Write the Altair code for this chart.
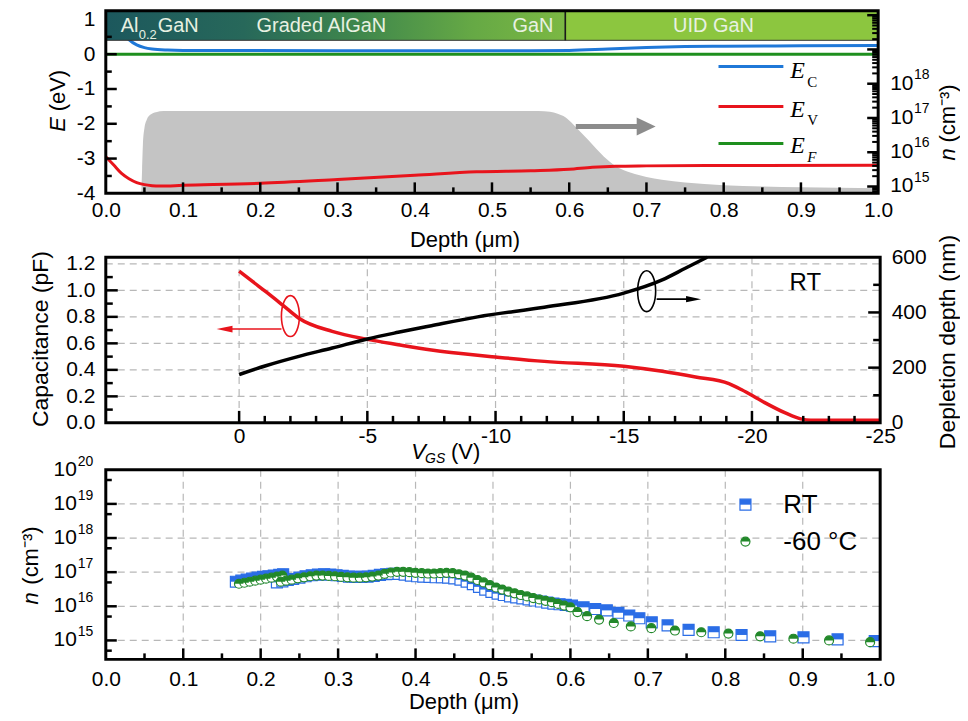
import altair as alt
import pandas as pd

SANS = "Liberation Sans"
SERIF = "Liberation Serif"

# ================= DATA =================
# --- top panel: band diagram (depth in um, energy in eV) ---
ec_depth = [0.0, 0.01, 0.02, 0.03, 0.04, 0.05, 0.06, 0.08, 0.1, 0.3, 0.55, 0.6, 0.65, 0.7, 0.75, 0.8, 0.9, 1.0]
ec_val = [1.2, 1.05, 0.7, 0.42, 0.27, 0.19, 0.15, 0.12, 0.11, 0.1, 0.1, 0.11, 0.15, 0.19, 0.22, 0.23, 0.24, 0.25]
ev_depth = [0.0, 0.01, 0.02, 0.03, 0.04, 0.05, 0.06, 0.07, 0.1, 0.2, 0.3, 0.4, 0.48, 0.55, 0.6, 0.63, 0.66, 0.7, 0.8, 1.0]
ev_val = [-2.95, -3.18, -3.42, -3.58, -3.69, -3.75, -3.78, -3.79, -3.77, -3.71, -3.6, -3.48, -3.38, -3.35, -3.31, -3.25, -3.22, -3.21, -3.2, -3.19]
ef_depth = [0.0, 1.0]
ef_val = [0.0, 0.0]
# electron density profile (log10 n, cm^-3)
n_depth = [0.046, 0.047, 0.048, 0.05, 0.053, 0.058, 0.065, 0.075, 0.1, 0.3, 0.5, 0.56, 0.575, 0.585,
           0.595, 0.605, 0.615, 0.625, 0.635, 0.645, 0.66, 0.68, 0.7, 0.72, 0.75, 0.8, 0.85, 0.9, 0.95, 1.0]
n_exp = [14.8, 15.5, 16.2, 16.7, 16.95, 17.1, 17.17, 17.2, 17.2, 17.2, 17.2, 17.2, 17.18, 17.12,
         17.02, 16.82, 16.58, 16.35, 16.1, 15.87, 15.6, 15.4, 15.28, 15.2, 15.12, 15.04, 15.0, 14.98, 14.96, 14.95]
n_floor_exp = 14.8
# layer stack
stack_x0 = [0.0, 0.595]
stack_x1 = [0.595, 1.0]
stack_y = [0.40, 1.25]
stack_labels = ["Graded AlGaN", "GaN", "UID GaN"]

# --- middle panel: C-V ---
cap_v = [0, -0.52, -1.04, -1.69, -2.33, -3.63, -5, -6.2, -7.5, -9.3, -10, -11.9, -15, -16.5, -17.8,
         -19.1, -19.6, -20.4, -21.3, -21.9, -22.3, -25]
cap_pf = [1.145, 1.067, 0.99, 0.89, 0.79, 0.69, 0.63, 0.59, 0.55, 0.51, 0.497, 0.464, 0.427, 0.389, 0.346,
          0.296, 0.25, 0.163, 0.075, 0.03, 0.02, 0.02]
dep_v = [0, -1.04, -2.33, -3.63, -5, -6.2, -7.5, -9.3, -11.9, -15, -16.5, -17.4, -18.25]
dep_nm = [175, 207, 241, 271, 304, 328, 352, 384, 419, 470, 518, 560, 600]

# --- bottom panel: n profile, RT and -60 C (log10 n) ---
rt_depth = [0.168, 0.175, 0.182, 0.189, 0.196, 0.203, 0.210, 0.217, 0.224, 0.229,
            0.221, 0.228, 0.235, 0.242, 0.250, 0.258, 0.266, 0.274, 0.282, 0.290, 0.298, 0.306, 0.314, 0.322,
            0.330, 0.338, 0.346, 0.354, 0.362, 0.370, 0.378, 0.386, 0.394, 0.402, 0.410, 0.418, 0.426, 0.434,
            0.442, 0.450, 0.458, 0.466, 0.474, 0.482, 0.490, 0.498, 0.506, 0.514, 0.522, 0.530, 0.538, 0.546,
            0.554, 0.562, 0.570, 0.578, 0.586, 0.594,
            0.602, 0.617, 0.632, 0.647, 0.662, 0.676, 0.689, 0.705, 0.7255, 0.7526, 0.785, 0.821, 0.858,
            0.901, 0.945, 0.993]
rt_exp = [16.72, 16.75, 16.78, 16.81, 16.84, 16.86, 16.88, 16.90, 16.92, 16.94,
          16.70, 16.73, 16.77, 16.80, 16.84, 16.88, 16.91, 16.93, 16.94, 16.93, 16.91, 16.89, 16.87, 16.86,
          16.86, 16.87, 16.89, 16.92, 16.94, 16.95, 16.95, 16.93, 16.90, 16.88, 16.87, 16.86, 16.85, 16.85,
          16.84, 16.82, 16.78, 16.72, 16.65, 16.57, 16.49, 16.42, 16.37, 16.33, 16.29, 16.26, 16.23, 16.20,
          16.17, 16.14, 16.11, 16.08, 16.06, 16.04,
          16.02, 15.97, 15.92, 15.88, 15.81, 15.73, 15.65, 15.53, 15.44, 15.31, 15.24, 15.16, 15.12,
          15.09, 15.03, 14.98]
lt_depth = [0.172, 0.179, 0.186, 0.193, 0.200, 0.207, 0.214, 0.221, 0.228,
            0.226, 0.233, 0.240, 0.248, 0.256, 0.264, 0.272, 0.280, 0.288, 0.296, 0.304, 0.312, 0.320,
            0.328, 0.336, 0.344, 0.352, 0.360, 0.368, 0.376, 0.384, 0.392, 0.400, 0.408, 0.416, 0.424,
            0.432, 0.440, 0.448, 0.456, 0.464, 0.472, 0.480, 0.488, 0.496, 0.504, 0.512, 0.520, 0.528,
            0.536, 0.544, 0.552, 0.560, 0.568, 0.576, 0.584, 0.592, 0.600,
            0.609, 0.6215, 0.637, 0.656, 0.678, 0.7045, 0.735, 0.769, 0.804, 0.845, 0.888, 0.934, 0.987]
lt_exp = [16.66, 16.69, 16.72, 16.75, 16.78, 16.81, 16.84, 16.87, 16.90,
          16.72, 16.75, 16.78, 16.82, 16.85, 16.88, 16.90, 16.90, 16.89, 16.88, 16.86, 16.85, 16.84,
          16.84, 16.85, 16.87, 16.90, 16.95, 16.99, 17.01, 17.01, 17.00, 16.98, 16.97, 16.96, 16.96,
          16.97, 16.98, 16.97, 16.94, 16.90, 16.84, 16.77, 16.70, 16.62, 16.55, 16.49, 16.43, 16.38,
          16.33, 16.29, 16.24, 16.20, 16.16, 16.12, 16.07, 16.02, 15.97,
          15.83, 15.71, 15.61, 15.51, 15.41, 15.36, 15.29, 15.24, 15.20, 15.12, 15.05, 15.00, 14.95]

# tick values
depth_major = [0.0, 0.1, 0.2, 0.3, 0.4, 0.5, 0.6, 0.7, 0.8, 0.9, 1.0]
depth_minor = [0.05, 0.15, 0.25, 0.35, 0.45, 0.55, 0.65, 0.75, 0.85, 0.95]
e_major = [-4, -3, -2, -1, 0, 1]
e_minor = [-3.5, -2.5, -1.5, -0.5, 0.5]
v_major = [0, -5, -10, -15, -20, -25]
v_minor = [-1, -2, -3, -4, -6, -7, -8, -9, -11, -12, -13, -14, -16, -17, -18, -19, -21, -22, -23, -24]
c_major = [0.0, 0.2, 0.4, 0.6, 0.8, 1.0, 1.2]
c_minor = [0.1, 0.3, 0.5, 0.7, 0.9, 1.1]
d_major = [0, 200, 400, 600]
d_minor = [100, 300, 500]
top_n_exps = [15, 16, 17, 18]
top_n_major = [15, 16, 17, 18, 19, 20]
top_n_minor_mult = [2, 3, 4, 5, 6, 7, 8, 9]
bot_n_exps = [15, 16, 17, 18, 19, 20]
bot_n_minor = [14.7, 15.7, 16.7, 17.7, 18.7, 19.7]

# ================= HELPERS =================
BLUE_L = "#1f78d8"
RED = "#e8141c"
GREEN = "#1e8f1e"
BLUE_P = "#2b6de6"
GREEN_P = "#22882a"
GRID = "#b8b8b8"


def one():
    return pd.DataFrame({"k": [0]})


def txt(text, x, y, size=21, angle=0, align="center", baseline="middle", font=SANS, style="normal", color="black"):
    return alt.Chart(one()).mark_text(text=text, fontSize=size, angle=angle, align=align, baseline=baseline,
                                      font=font, fontStyle=style, color=color).encode(
        x=alt.value(x), y=alt.value(y))


def vrules(vals, scale, y0, y1, color="black", width=2.5, dash=None, axis=None):
    kw = dict(color=color, strokeWidth=width)
    if dash:
        kw["strokeDash"] = dash
    return alt.Chart(pd.DataFrame({"v": vals})).mark_rule(**kw).encode(
        x=alt.X("v:Q", scale=scale, axis=axis, title=None), y=alt.value(y0), y2=alt.value(y1))


def hrules(vals, scale, x0, x1, color="black", width=2.5, dash=None):
    kw = dict(color=color, strokeWidth=width)
    if dash:
        kw["strokeDash"] = dash
    return alt.Chart(pd.DataFrame({"v": vals})).mark_rule(**kw).encode(
        y=alt.Y("v:Q", scale=scale, axis=None, title=None), x=alt.value(x0), x2=alt.value(x1))


def line(xs, ys, color, w, sx, sy, xaxis=None, yaxis=None):
    df = pd.DataFrame({"x": xs, "y": ys})
    return alt.Chart(df).mark_line(color=color, strokeWidth=w, interpolate="monotone").encode(
        x=alt.X("x:Q", scale=sx, axis=xaxis, title=None),
        y=alt.Y("y:Q", scale=sy, axis=yaxis, title=None))


def seg(x0, x1, y0, y1, color, w):
    return alt.Chart(one()).mark_rule(color=color, strokeWidth=w).encode(
        x=alt.value(x0), x2=alt.value(x1), y=alt.value(y0), y2=alt.value(y1))


def sym(x, y, shape, size, fill=None, stroke=None, sw=1.0):
    kw = dict(shape=shape, size=size, opacity=1, strokeWidth=sw)
    if fill:
        kw["fill"] = fill
        kw["filled"] = True
        kw["fillOpacity"] = 1
    else:
        kw["filled"] = False
        kw["fillOpacity"] = 0
    if stroke:
        kw["stroke"] = stroke
    else:
        kw["strokeWidth"] = 0
    return alt.Chart(one()).mark_point(**kw).encode(x=alt.value(x), y=alt.value(y))


def frame(w, h, top=0):
    return alt.Chart(one()).mark_rect(fillOpacity=0, stroke="black", strokeWidth=3).encode(
        x=alt.value(0), x2=alt.value(w), y=alt.value(top), y2=alt.value(h))


def depth_axis(pad):
    return alt.Axis(orient="bottom", values=depth_major, format=".1f", labelPadding=pad, labelFontSize=21,
                    labelFont=SANS, labelColor="black", ticks=False, domain=False, grid=False, title=None,
                    labelFlush=False, labelOverlap=False)


ELLIPSE = "M0,-1A0.44,1,0,0,1,0,1A0.44,1,0,0,1,0,-1Z"
HEAD_R = "M-1,-0.95L1,0L-1,0.95Z"
HEAD_R_THIN = "M-1,-0.42L1,0L-1,0.42Z"
HEAD_L_THIN = "M1,-0.42L-1,0L1,0.42Z"
SQ = "M-1,-1L1,-1L1,1L-1,1Z"
SQ_TOP = "M-1,-1L1,-1L1,0L-1,0Z"
CI = "M-1,0A1,1,0,1,1,1,0A1,1,0,1,1,-1,0Z"
CI_TOP = "M-1,0A1,1,0,0,1,1,0Z"

# ================= TOP PANEL =================
W1, H1 = 774, 183
X1 = alt.Scale(domain=[0, 1], nice=False, zero=False)
YE = alt.Scale(domain=[-4, 1.25], nice=False, zero=False)
YN = alt.Scale(type="log", domain=[10 ** 14.8, 10 ** 20.13], nice=False)

n_df = pd.DataFrame({"x": n_depth, "n": [10.0 ** e for e in n_exp],
                     "b": [10.0 ** n_floor_exp] * len(n_depth)})
gray_area = alt.Chart(n_df).mark_area(color="#c4c4c4", interpolate="monotone", opacity=1).encode(
    x=alt.X("x:Q", scale=X1, axis=depth_axis(6), title=None),
    y=alt.Y("n:Q", scale=YN, axis=None, title=None, stack=None),
    y2="b:Q")

e_axis = alt.Axis(values=e_major, labelExpr="toString(datum.value)", labelPadding=11, labelFontSize=21,
                  labelFont=SANS, labelColor="black", ticks=False, domain=False, grid=False, title=None)
ef_line = line(ef_depth, ef_val, GREEN, 3, X1, YE, yaxis=e_axis)
ec_line = line(ec_depth, ec_val, BLUE_L, 3, X1, YE)
ev_line = line(ev_depth, ev_val, RED, 3, X1, YE)

grad = alt.Gradient(gradient="linear", x1=0, x2=1, y1=0, y2=0, stops=[
    alt.GradientStop(offset=0.0, color="#1c585d"),
    alt.GradientStop(offset=0.3, color="#27685a"),
    alt.GradientStop(offset=0.55, color="#3f874c"),
    alt.GradientStop(offset=0.8, color="#66a945"),
    alt.GradientStop(offset=1.0, color="#7bb843")])
stack1 = alt.Chart(pd.DataFrame({"x0": [stack_x0[0]], "x1": [stack_x1[0]], "y0": [stack_y[0]], "y1": [stack_y[1]]})).mark_rect(
    color=grad, stroke="#333333", strokeWidth=1).encode(
    x=alt.X("x0:Q", scale=X1, axis=None), x2="x1:Q",
    y=alt.Y("y0:Q", scale=YE, axis=None), y2="y1:Q")
stack2 = alt.Chart(pd.DataFrame({"x0": [stack_x0[1]], "x1": [stack_x1[1]], "y0": [stack_y[0]], "y1": [stack_y[1]]})).mark_rect(
    color="#8cc63f", stroke="#333333", strokeWidth=1).encode(
    x=alt.X("x0:Q", scale=X1, axis=None), x2="x1:Q",
    y=alt.Y("y0:Q", scale=YE, axis=None), y2="y1:Q")
sep = alt.Chart(pd.DataFrame({"x": [stack_x0[1]], "y0": [stack_y[0]], "y1": [stack_y[1]]})).mark_rule(
    color="#1a1a1a", strokeWidth=1.5).encode(
    x=alt.X("x:Q", scale=X1, axis=None), y=alt.Y("y0:Q", scale=YE, axis=None), y2="y1:Q")

LBL = "#e8f1e2"
top_layers = [
    gray_area, ef_line, ec_line, ev_line, stack1, stack2, sep,
    txt("Al", 15, 15, 20, align="left", color=LBL),
    txt("0.2", 33, 24, 13, align="left", color=LBL),
    txt("GaN", 52, 15, 20, align="left", color=LBL),
    txt(stack_labels[0], 216, 15, 20, color=LBL),
    txt(stack_labels[1], 428, 15, 20, color=LBL),
    txt(stack_labels[2], 609, 15, 20, color=LBL),
    # legend
    seg(614, 679, 56, 56, BLUE_L, 3), seg(614, 679, 96, 96, RED, 3), seg(614, 679, 133, 133, GREEN, 3),
    txt("E", 686, 60, 24, align="left", font=SERIF, style="italic"),
    txt("C", 703, 71, 15, align="left", font=SERIF),
    txt("E", 686, 99, 24, align="left", font=SERIF, style="italic"),
    txt("V", 703, 110, 15, align="left", font=SERIF),
    txt("E", 686, 136, 24, align="left", font=SERIF, style="italic"),
    txt("F", 703, 147, 15, align="left", font=SERIF, style="italic"),
    # gray arrow
    seg(471, 534, 116, 116, "#8c8c8c", 5),
    sym(541.5, 116, HEAD_R, 361, fill="#8c8c8c"),
    # ticks
    vrules(depth_major[1:-1], X1, H1, H1 - 11), vrules(depth_minor, X1, H1, H1 - 6),
    hrules(e_major[1:-1], YE, 0, 11), hrules(e_minor, YE, 0, 6),
    hrules([10.0 ** e for e in top_n_major], YN, W1, W1 - 11),
    hrules([m * 10.0 ** e for e in [14, 15, 16, 17, 18, 19, 20] for m in top_n_minor_mult
            if 10 ** 14.8 < m * 10.0 ** e < 10 ** 20.13], YN, W1, W1 - 6, width=2),
]
# right log labels
top_lab_df = pd.DataFrame({"v": [10.0 ** e for e in top_n_exps], "s": [str(e) for e in top_n_exps]})
top_layers += [
    alt.Chart(top_lab_df).mark_text(text="10", fontSize=21, align="left", baseline="middle", font=SANS).encode(
        y=alt.Y("v:Q", scale=YN, axis=None), x=alt.value(W1 + 12)),
    alt.Chart(top_lab_df).mark_text(fontSize=14, align="left", baseline="middle", dy=-9, font=SANS).encode(
        y=alt.Y("v:Q", scale=YN, axis=None), x=alt.value(W1 + 36), text="s:N"),
    # titles
    txt("E", -48, 114, 22, angle=270, style="italic"),
    txt("(eV)", -48, 80, 22, angle=270),
    txt("n", 844, 144, 22, angle=270, style="italic"),
    txt("(cm⁻³)", 844, 103, 22, angle=270),
    txt("Depth (μm)", 360, 230, 22),
    frame(W1, H1),
]
top = alt.layer(*top_layers).resolve_scale(y="independent").resolve_axis(x="independent").properties(
    width=W1, height=H1)

# ================= MIDDLE PANEL =================
W2, H2, OFF2 = 776, 183, 17
X2 = alt.Scale(domain=[-25, 5.2], reverse=True, nice=False, zero=False)
YC = alt.Scale(domain=[0, 1.25 * H2 / (H2 - OFF2)], nice=False, zero=False)
YD = alt.Scale(domain=[0, 600 * H2 / (H2 - OFF2)], nice=False, zero=False)

v_axis = alt.Axis(orient="bottom", values=v_major, labelExpr="toString(datum.value)", labelPadding=3,
                  labelFontSize=21, labelFont=SANS, labelColor="black", ticks=False, domain=False, grid=False,
                  title=None, labelFlush=False, labelOverlap=False)
c_axis = alt.Axis(values=c_major, format=".1f", labelPadding=11, labelFontSize=21, labelFont=SANS,
                  labelColor="black", ticks=False, domain=False, grid=False, title=None)
d_axis = alt.Axis(orient="right", values=d_major, format="d", labelPadding=11, labelFontSize=21, labelFont=SANS,
                  labelColor="black", ticks=False, domain=False, grid=False, title=None)

mid_layers = [
    vrules(v_major[:-1], X2, OFF2, H2, color=GRID, width=1.2, dash=[7, 5]),
    hrules(c_major[1:], YC, 0, W2, color=GRID, width=1.2, dash=[7, 5]),
    line(cap_v, cap_pf, RED, 3.5, X2, YC, xaxis=v_axis, yaxis=c_axis),
    line(dep_v, dep_nm, "black", 3.5, X2, YD, yaxis=d_axis),
    # ticks
    vrules(v_major[:-1], X2, H2, H2 - 12), vrules(v_minor, X2, H2, H2 - 7),
    hrules(c_major[1:-1], YC, 0, 12), hrules(c_minor, YC, 0, 7),
    hrules(d_major[1:-1], YD, W2, W2 - 12), hrules(d_minor, YD, W2, W2 - 7),
    # annotations
    sym(185, 76, ELLIPSE, 1681, stroke=RED, sw=1.6),
    seg(176, 126, 89, 89, RED, 1.6),
    sym(119, 89, HEAD_L_THIN, 256, fill=RED),
    sym(542, 51, ELLIPSE, 1681, stroke="black", sw=1.6),
    seg(552, 584, 59, 59, "black", 1.6),
    sym(589, 59, HEAD_R_THIN, 225, fill="black"),
    txt("RT", 701, 43, 24),
    # titles
    txt("Capacitance (pF)", -65, 99, 23, angle=270),
    txt("Depletion depth (nm)", 844, 102, 23, angle=270),
    txt("V", 306, 212, 22, align="left", style="italic"),
    txt("GS", 320, 219, 14, align="left", style="italic"),
    txt("(V)", 346, 212, 22, align="left"),
    frame(W2, H2, OFF2),
]
mid = alt.layer(*mid_layers).resolve_scale(y="independent").resolve_axis(x="independent").properties(
    width=W2, height=H2)

# ================= BOTTOM PANEL =================
W3, H3 = 776, 190
X3 = alt.Scale(domain=[0, 1], nice=False, zero=False)
YB = alt.Scale(type="log", domain=[10 ** 14.445, 10 ** 20], nice=False)


def pts(xs, exps, shape, size, fill, stroke, sw):
    df = pd.DataFrame({"x": xs, "n": [10.0 ** e for e in exps]})
    kw = dict(shape=shape, size=size, opacity=1, filled=True, fill=fill, fillOpacity=1, strokeWidth=sw)
    if stroke:
        kw["stroke"] = stroke
    else:
        kw["strokeWidth"] = 0
    return alt.Chart(df).mark_point(**kw).encode(
        x=alt.X("x:Q", scale=X3, axis=None), y=alt.Y("n:Q", scale=YB, axis=None))


bot_lab_df = pd.DataFrame({"v": [10.0 ** e for e in bot_n_exps], "s": [str(e) for e in bot_n_exps]})
bot_layers = [
    vrules(depth_major[1:-1], X3, 0, H3, color=GRID, width=1.2, dash=[7, 5], axis=depth_axis(9)),
    hrules([10.0 ** e for e in bot_n_exps[:-1]], YB, 0, W3, color=GRID, width=1.2, dash=[7, 5]),
    pts(rt_depth, rt_exp, SQ, 121, "white", BLUE_P, 1.2),
    pts(rt_depth, rt_exp, SQ_TOP, 121, BLUE_P, None, 0),
    pts(lt_depth, lt_exp, CI, 81, "white", GREEN_P, 1.2),
    pts(lt_depth, lt_exp, CI_TOP, 81, GREEN_P, None, 0),
    # legend
    sym(641, 35, SQ, 121, fill="white", stroke=BLUE_P, sw=1.2),
    sym(641, 35, SQ_TOP, 121, fill=BLUE_P),
    sym(641, 72, CI, 81, fill="white", stroke=GREEN_P, sw=1.2),
    sym(641, 72, CI_TOP, 81, fill=GREEN_P),
    txt("RT", 679, 35, 26, align="left"),
    txt("-60 °C", 679, 72, 26, align="left"),
    # ticks
    vrules(depth_major[1:-1], X3, H3, H3 - 11), vrules(depth_minor, X3, H3, H3 - 6),
    hrules([10.0 ** e for e in bot_n_exps[:-1]], YB, 0, 11),
    hrules([10.0 ** e for e in bot_n_minor], YB, 0, 6),
    # log labels
    alt.Chart(bot_lab_df).mark_text(text="10", fontSize=21, align="right", baseline="middle", font=SANS).encode(
        y=alt.Y("v:Q", scale=YB, axis=None), x=alt.value(-29)),
    alt.Chart(bot_lab_df).mark_text(fontSize=14, align="left", baseline="middle", dy=-8, font=SANS).encode(
        y=alt.Y("v:Q", scale=YB, axis=None), x=alt.value(-28), text="s:N"),
    # titles
    txt("n", -75, 129, 22, angle=270, style="italic"),
    txt("(cm⁻³)", -75, 86, 22, angle=270),
    txt("Depth (μm)", 359, 233, 22),
    frame(W3, H3),
]
bot = alt.layer(*bot_layers).resolve_scale(y="independent").resolve_axis(x="independent").properties(
    width=W3, height=H3)

chart = alt.vconcat(top, mid, bot, spacing=47, bounds="flush").properties(
    padding={"left": 12, "top": -3, "right": 0, "bottom": 0}
).configure_view(stroke=None)

chart.save("out.html", embed_options={"renderer": "svg", "actions": False})
